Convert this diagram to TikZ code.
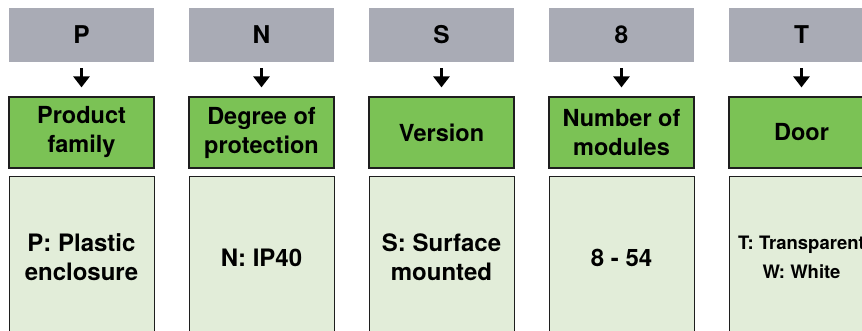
\documentclass[tikz,border=0pt]{standalone}
\usepackage{fontspec}
\setmainfont{TeX Gyre Heros}
\usetikzlibrary{arrows.meta}
\definecolor{codegray}{HTML}{A9ABB5}
\definecolor{headgreen}{HTML}{7BC255}
\definecolor{paleGreen}{HTML}{E2EDD9}
\definecolor{edgedark}{HTML}{1E1E1E}
\tikzset{
  codebox/.style={fill=codegray, draw=none, minimum width=145pt, minimum height=54pt, inner sep=0pt, font=\bfseries\fontsize{24.5}{28}\selectfont},
  headbox/.style={fill=headgreen, draw=edgedark, line width=1.2pt, minimum width=145pt, minimum height=71pt, inner sep=0pt, align=center, font=\bfseries\fontsize{23.5}{29}\selectfont},
  valbox/.style={fill=paleGreen, draw=edgedark, line width=1pt, minimum width=145pt, minimum height=161pt, inner sep=0pt, align=center, font=\bfseries\fontsize{24}{29}\selectfont},
  downarrow/.style={line width=2.8pt, -{Triangle[width=16pt,length=11pt]}, shorten <=6pt, shorten >=9pt}
}
\begin{document}
\begin{tikzpicture}[x=1pt,y=-1pt]
\useasboundingbox (0,0) rectangle (862,331);
\clip (0,0) rectangle (862,331);
\foreach \i/\c/\h/\v in {0/P/{Product\\family}/{P: Plastic\\enclosure},
                         1/N/{Degree of\\protection}/{N: IP40},
                         2/S/{Version}/{S: Surface\\mounted},
                         3/8/{Number of\\modules}/{8 - 54}}{
  \node[codebox] (g\i) at (81.5+180*\i,35) {\c};
  \node[headbox] (h\i) at (81.5+180*\i,132.5) {\h};
  \node[valbox] (v\i) at (81.5+180*\i,257.5) {\v};
  \draw[downarrow] (g\i.south) -- (h\i.north);
}
\node[codebox] (g4) at (801.5,35) {T};
\node[headbox] (h4) at (801.5,132.5) {Door};
\node[valbox, font=\bfseries\fontsize{18.5}{29}\selectfont] (v4) at (801.5,257.5) {T: Transparent\\W: White};
\draw[downarrow] (g4.south) -- (h4.north);
\end{tikzpicture}
\end{document}
